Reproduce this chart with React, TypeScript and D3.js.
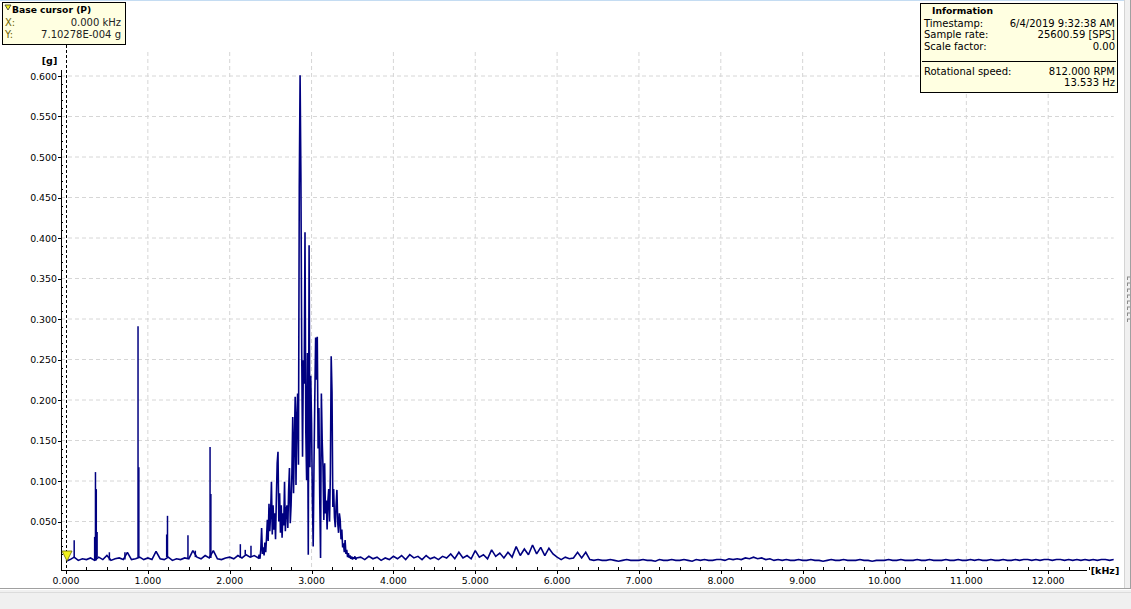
import * as React from "react";
import { format, line, range, scaleLinear } from "d3";

// spectrum floor, one value every 0.05 kHz from 0 to 12.8 kHz (null = covered by hump)
const FLOOR_STEP = 0.05;
const floorValues: (number | null)[] = [
  0.001, 0.003, 0.006, 0.002, 0.004, 0.003, 0.005, 0.002, 0.006, 0.003, 0.008, 0.002, 0.004, 0.005, 0.003, 0.012, 0.003, 0.004, 0.006, 0.003,
  0.005, 0.003, 0.013, 0.004, 0.003, 0.006, 0.002, 0.004, 0.003, 0.005, 0.004, 0.014, 0.006, 0.004, 0.008, 0.005, 0.014, 0.004, 0.003, 0.005,
  0.006, 0.004, 0.008, 0.005, 0.009, 0.006, 0.008, null, null, null, null, null, null, null, null, null, null, null, null, null,
  null, null, null, null, null, null, null, null, null, null, null, null, 0.006, 0.003, 0.007, 0.004, 0.006, 0.002, 0.005, 0.003,
  0.007, 0.004, 0.008, 0.003, 0.009, 0.005, 0.007, 0.003, 0.008, 0.004, 0.006, 0.003, 0.007, 0.005, 0.010, 0.004, 0.012, 0.005, 0.008, 0.004,
  0.014, 0.006, 0.009, 0.004, 0.015, 0.007, 0.011, 0.005, 0.012, 0.006, 0.019, 0.008, 0.016, 0.009, 0.021, 0.010, 0.018, 0.008, 0.017, 0.010,
  0.006, 0.003, 0.006, 0.004, 0.005, 0.012, 0.005, 0.012, 0.003, 0.002, 0.003, 0.002, 0.002, 0.003, 0.002, 0.001, 0.002, 0.003, 0.002, 0.002,
  0.002, 0.003, 0.002, 0.002, 0.001, 0.003, 0.002, 0.002, 0.003, 0.002, 0.002, 0.003, 0.002, 0.001, 0.003, 0.002, 0.003, 0.002, 0.002, 0.003,
  0.003, 0.002, 0.004, 0.003, 0.004, 0.003, 0.005, 0.004, 0.006, 0.004, 0.005, 0.003, 0.004, 0.002, 0.003, 0.002, 0.003, 0.002, 0.002, 0.003,
  0.002, 0.002, 0.003, 0.002, 0.002, 0.001, 0.002, 0.003, 0.002, 0.002, 0.003, 0.002, 0.002, 0.002, 0.003, 0.002, 0.002, 0.001, 0.002, 0.002,
  0.002, 0.003, 0.002, 0.002, 0.003, 0.002, 0.002, 0.002, 0.003, 0.002, 0.002, 0.003, 0.002, 0.002, 0.002, 0.003, 0.002, 0.002, 0.003, 0.002,
  0.002, 0.003, 0.002, 0.003, 0.002, 0.002, 0.003, 0.002, 0.002, 0.003, 0.002, 0.002, 0.003, 0.002, 0.003, 0.003, 0.002, 0.003, 0.002, 0.003,
  0.003, 0.002, 0.003, 0.003, 0.002, 0.003, 0.002, 0.003, 0.002, 0.003, 0.002, 0.003, 0.002, 0.003, 0.003, 0.002, 0.003,
];

// main resonance hump, one value every 0.01 kHz from 2.35 to 3.55 kHz
const HUMP_START = 2.35;
const HUMP_STEP = 0.01;
const humpValues = [
  0.005, 0.009, 0.004, 0.016, 0.042, 0.010, 0.018, 0.008, 0.024, 0.012,
  0.030, 0.052, 0.026, 0.072, 0.038, 0.060, 0.099, 0.034, 0.070, 0.040,
  0.060, 0.028, 0.078, 0.122, 0.136, 0.050, 0.085, 0.036, 0.070, 0.030,
  0.060, 0.045, 0.099, 0.038, 0.065, 0.070, 0.042, 0.089, 0.116, 0.048,
  0.070, 0.110, 0.179, 0.085, 0.150, 0.204, 0.095, 0.180, 0.208, 0.120,
  0.462, 0.601, 0.475, 0.258, 0.130, 0.249, 0.220, 0.407, 0.160, 0.101,
  0.258, 0.009, 0.391, 0.117, 0.230, 0.172, 0.080, 0.019, 0.120, 0.204,
  0.277, 0.225, 0.278, 0.140, 0.190, 0.080, 0.005, 0.208, 0.150, 0.117,
  0.052, 0.122, 0.060, 0.076, 0.040, 0.076, 0.090, 0.050, 0.110, 0.254,
  0.210, 0.068, 0.090, 0.055, 0.043, 0.070, 0.089, 0.048, 0.036, 0.060,
  0.052, 0.028, 0.040, 0.018, 0.023, 0.012, 0.027, 0.010, 0.015, 0.006,
  0.011, 0.005, 0.008, 0.004, 0.007, 0.003, 0.006, 0.004, 0.007, 0.003,
  0.005,
];

// narrow spectral lines [kHz, g]
const peakLines: [number, number][] = [
  [0.1, 0.027], [0.35, 0.031], [0.36, 0.111], [0.37, 0.09], [0.38, 0.037],
  [0.53, 0.012], [0.72, 0.012], [0.88, 0.291], [0.89, 0.117], [1.09, 0.013],
  [1.23, 0.034], [1.24, 0.057], [1.49, 0.033], [1.58, 0.014], [1.76, 0.142],
  [1.77, 0.084], [1.8, 0.014], [2.13, 0.022], [2.19, 0.015], [2.26, 0.02],
];

const yTicks = [0.05, 0.1, 0.15, 0.2, 0.25, 0.3, 0.35, 0.4, 0.45, 0.5, 0.55, 0.6];
const xTicks = [0, 1, 2, 3, 4, 5, 6, 7, 8, 9, 10, 11, 12];

const infoRows = [
  ["Timestamp:", "6/4/2019 9:32:38 AM"],
  ["Sample rate:", "25600.59 [SPS]"],
  ["Scale factor:", "0.00"],
];

const FONT = "'DejaVu Sans', Verdana, sans-serif";
const NAVY = "#000080";

export default function App() {
  const x = scaleLinear().domain([0, 12]).range([66, 1048.2]);
  const y = scaleLinear().domain([0, 0.6]).range([562, 76]);
  const fmt = format(".3f");

  const left = 61;
  const bottom = 570;
  const plotRight = x(12.8);
  const axisRight = 1087;

  const points: [number, number][] = [];
  floorValues.forEach((v, i) => {
    if (v != null) points.push([i * FLOOR_STEP, v]);
  });
  humpValues.forEach((v, i) => points.push([HUMP_START + i * HUMP_STEP, v]));
  points.sort((a, b) => a[0] - b[0]);

  const path = line<[number, number]>()
    .x((d) => x(d[0]))
    .y((d) => y(d[1]))(points);

  const minorY = range(1, 61).map((i) => i * 0.01).filter((v, i) => (i + 1) % 5 !== 0);
  const minorX = range(1, 51).map((i) => i * 0.25).filter((v) => v % 1 !== 0);

  return (
    <div style={{ position: "absolute", left: 0, top: 0 }}>
      <svg width={1131} height={609} style={{ display: "block" }} fontFamily={FONT}>
        <rect width={1131} height={609} fill="#fff" />
        <line x1={0} x2={1131} y1={0.5} y2={0.5} stroke="#c4dcf2" />

        {/* grid */}
        {yTicks.map((t) => (
          <line key={`gy${t}`} x1={left} x2={plotRight} y1={y(t)} y2={y(t)}
            stroke="#d6d6d6" strokeDasharray="4,3" />
        ))}
        {xTicks.slice(1).map((t) => (
          <line key={`gx${t}`} x1={x(t)} x2={x(t)} y1={52} y2={bottom}
            stroke="#d6d6d6" strokeDasharray="4,3" />
        ))}

        {/* spectrum */}
        <path d={path ?? ""} fill="none" stroke={NAVY} strokeWidth={1.6} strokeLinejoin="miter" strokeMiterlimit={2} />
        {peakLines.map(([f, g]) => {
          const base = floorValues[Math.round(f / FLOOR_STEP)] ?? 0.003;
          return (
            <line key={`p${f}`} x1={x(f)} x2={x(f)} y1={y(base)} y2={y(g)}
              stroke={NAVY} strokeWidth={1.5} />
          );
        })}

        {/* axes */}
        <line x1={left + 0.5} x2={left + 0.5} y1={70} y2={bottom} stroke="#000" />
        <line x1={left} x2={axisRight} y1={bottom + 0.5} y2={bottom + 0.5} stroke="#000" />
        {yTicks.map((t) => (
          <g key={`ty${t}`}>
            <line x1={left - 3} x2={left} y1={Math.round(y(t)) + 0.5} y2={Math.round(y(t)) + 0.5} stroke="#000" />
            <text x={57} y={y(t) + 3.5} fontSize={9.4} textAnchor="end" fill="#000">{fmt(t)}</text>
          </g>
        ))}
        {minorY.map((t) => (
          <line key={`my${t}`} x1={left} x2={left + 2} y1={Math.round(y(t)) + 0.5} y2={Math.round(y(t)) + 0.5} stroke="#000" />
        ))}
        {xTicks.map((t) => (
          <g key={`tx${t}`}>
            <line x1={Math.round(x(t)) + 0.5} x2={Math.round(x(t)) + 0.5} y1={bottom} y2={bottom + 4} stroke="#000" />
            <text x={x(t)} y={584} fontSize={9.4} textAnchor="middle" fill="#000">{fmt(t)}</text>
          </g>
        ))}
        {minorX.map((t) => (
          <line key={`mx${t}`} x1={Math.round(x(t)) + 0.5} x2={Math.round(x(t)) + 0.5} y1={bottom - 3} y2={bottom} stroke="#000" />
        ))}
        <text x={49.5} y={64} fontSize={9.5} fontWeight="bold" textAnchor="middle">[g]</text>
        <text x={1105} y={574} fontSize={9.5} fontWeight="bold" textAnchor="middle">[kHz]</text>

        {/* base cursor */}
        <line x1={66.5} x2={66.5} y1={45} y2={bottom} stroke="#000" strokeDasharray="3,2" />
        <path d="M62,551 L72,551 L67,561 Z" fill="#f2f21a" stroke="#6b6b00" strokeWidth={0.8} />

        {/* cursor box */}
        <rect x={2.5} y={2.5} width={123} height={42} fill="#ffffe1" stroke="#000" />
        <path d="M5,5 L11,5 L8,10 Z" fill="#f2f21a" stroke="#333" strokeWidth={0.8} />
        <text x={12} y={13} fontSize={9.2} fontWeight="bold">Base cursor (P)</text>
        <text x={5} y={26} fontSize={10} fill="#6e6400">X:</text>
        <text x={121} y={26} fontSize={10} textAnchor="end" fill="#222">0.000 kHz</text>
        <text x={5} y={38} fontSize={10} fill="#6e6400">Y:</text>
        <text x={121} y={38} fontSize={10} textAnchor="end" fill="#222">7.10278E-004 g</text>

        {/* information box */}
        <rect x={920.5} y={3.5} width={197} height={89} fill="#ffffe1" stroke="#000" />
        <text x={932} y={14} fontSize={9.2} fontWeight="bold">Information</text>
        {infoRows.map(([k, v], i) => (
          <g key={k}>
            <text x={924} y={27 + i * 11.3} fontSize={10}>{k}</text>
            <text x={1115} y={27 + i * 11.3} fontSize={10} textAnchor="end">{v}</text>
          </g>
        ))}
        <line x1={922} x2={1116} y1={61.5} y2={61.5} stroke="#000" />
        <text x={924} y={75} fontSize={10}>Rotational speed:</text>
        <text x={1115} y={75} fontSize={10} textAnchor="end">812.000 RPM</text>
        <text x={1115} y={86} fontSize={10} textAnchor="end">13.533 Hz</text>

        {/* window chrome */}
        <rect x={1124} y={0} width={7} height={589} fill="#f0f0f0" />
        <line x1={1124.5} x2={1124.5} y1={0} y2={589} stroke="#d4d4d4" />
        <line x1={1130.5} x2={1130.5} y1={0} y2={589} stroke="#a0a0a0" />
        {range(8).map((i) => (
          <path key={`grip${i}`} d={`M1127,${277 + i * 6} h3 M1127.5,${277 + i * 6} v3`} stroke="#8c8c8c" strokeWidth={1} fill="none" />
        ))}
        <rect x={0} y={589} width={1131} height={20} fill="#f0f0f0" />
        <line x1={0} x2={1131} y1={588.5} y2={588.5} stroke="#a0a0a0" />
        <line x1={0} x2={1131} y1={589.5} y2={589.5} stroke="#ffffff" />
        <line x1={0} x2={1131} y1={592.5} y2={592.5} stroke="#dcdcdc" />
      </svg>
    </div>
  );
}
